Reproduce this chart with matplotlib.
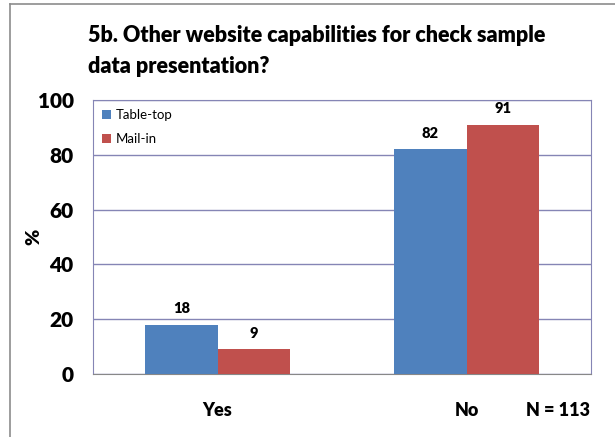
import matplotlib
matplotlib.use("Agg")
import matplotlib.pyplot as plt
from matplotlib.lines import Line2D
import numpy as np

TITLE = "5b. Other website capabilities for check sample\ndata presentation?"
CATEGORIES = ["Yes", "No"]
SERIES = ["Table-top", "Mail-in"]
TABLE_TOP = [18, 82]
MAIL_IN = [9, 91]
COLORS = ["#4F81BD", "#C0504D"]
GRID = "#8585B5"

plt.rcParams["font.family"] = ["Lato", "DejaVu Sans"]

fig = plt.figure(figsize=(6.15, 4.37), dpi=100)
ax = fig.add_axes([93 / 615, 1 - 374 / 437, 498 / 615, 274 / 437])

x = np.arange(len(CATEGORIES))
w = 0.29
for i, (name, vals) in enumerate(zip(SERIES, [TABLE_TOP, MAIL_IN])):
    b = ax.bar(x + (i - 0.5) * w, vals, width=w, color=COLORS[i], label=name, zorder=3)
    for rect, v in zip(b, vals):
        ax.text(rect.get_x() + rect.get_width() / 2, v + 3.5, str(v),
                ha="center", va="bottom", fontsize=10.5, fontweight="heavy")

ax.set_xlim(-0.5, 1.5)
ax.set_ylim(0, 100)
ax.set_yticks(range(0, 101, 20))
ax.yaxis.grid(True, color=GRID, linewidth=1, zorder=0)
ax.tick_params(axis="y", length=0, pad=14, labelsize=15)
ax.tick_params(axis="x", length=0, pad=20, labelsize=13)
ax.set_xticks(x)
ax.set_xticklabels(CATEGORIES)
for lbl in ax.get_yticklabels() + ax.get_xticklabels():
    lbl.set_fontweight("heavy")
for side in ["left", "right", "top"]:
    ax.spines[side].set_color(GRID)
ax.spines["bottom"].set_color("#888888")
ax.set_ylabel("%", fontsize=14, fontweight="heavy")
ax.yaxis.set_label_coords(-51 / 498, 0.5)

ax.legend(loc="upper left", frameon=False, fontsize=9.5, handlelength=0.7,
          handleheight=0.7, handletextpad=0.3, labelspacing=0.9,
          borderaxespad=0.3)

fig.text(88 / 615, 1 - 25 / 437, TITLE, ha="left", va="top", fontsize=15.5,
         fontweight="heavy", linespacing=1.6)
fig.text(590 / 615, 1 - 411 / 437, "N = 113", ha="right", va="center",
         fontsize=13, fontweight="heavy")

# chart frame, cropped on the right and bottom
fig.add_artist(Line2D([10 / 615, 10 / 615], [0, 1 - 4 / 437], transform=fig.transFigure,
                      color="#8c8c8c", linewidth=1.2))
fig.add_artist(Line2D([10 / 615, 1], [1 - 4 / 437, 1 - 4 / 437], transform=fig.transFigure,
                      color="#8c8c8c", linewidth=1.2))

fig.savefig("out.png", dpi=100)
